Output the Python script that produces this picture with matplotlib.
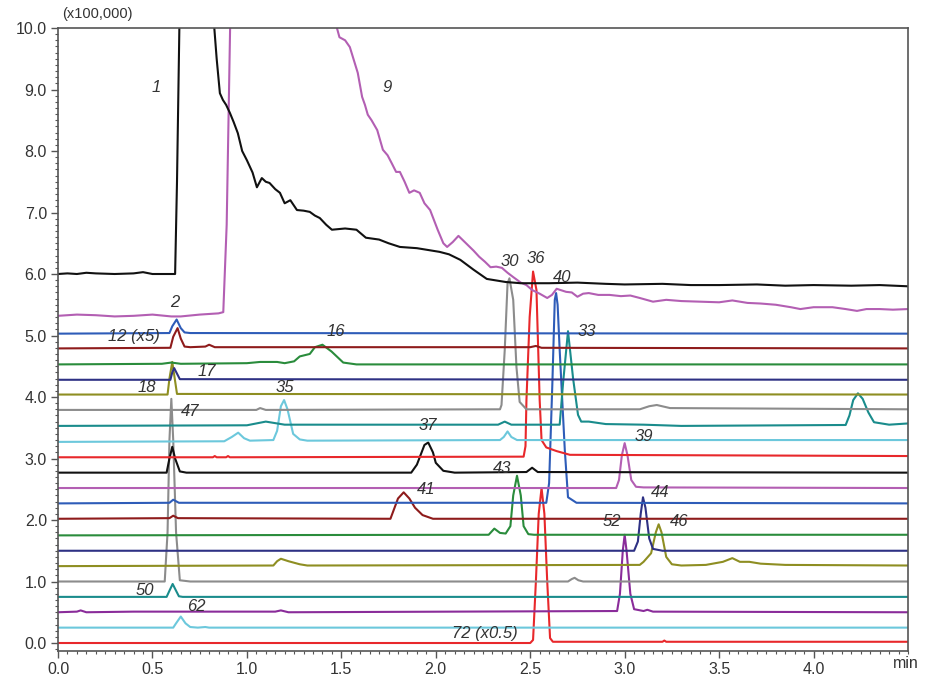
import matplotlib
matplotlib.use("Agg")
from matplotlib import pyplot as plt
from matplotlib.ticker import MultipleLocator, FixedLocator, FormatStrFormatter

# retention time (min), intensity (x100,000); one list of points per trace, bottom to top
tr72 = [(0, 0.0), (2.50, 0.0), (2.515, 0.05), (2.53, 1.0), (2.545, 2.1), (2.56, 2.52), (2.575, 2.1),
        (2.59, 1.0), (2.605, 0.08), (2.62, 0.02), (3.2, 0.02), (3.21, 0.04), (3.22, 0.02), (4.5, 0.02)]
tr62 = [(0, 0.25), (0.61, 0.25), (0.625, 0.32), (0.65, 0.43), (0.675, 0.32), (0.70, 0.26),
        (0.74, 0.25), (0.78, 0.26), (0.80, 0.25), (4.5, 0.25)]
tr52 = [(0, 0.5), (0.1, 0.51), (0.12, 0.53), (0.15, 0.5), (0.4, 0.51), (1.15, 0.51), (1.18, 0.53),
        (1.22, 0.5), (2.96, 0.52), (2.975, 0.8), (2.99, 1.5), (3.0, 1.76), (3.01, 1.5), (3.03, 0.8),
        (3.05, 0.55), (3.1, 0.52), (3.12, 0.54), (3.15, 0.51), (4.5, 0.5)]
tr50 = [(0, 0.75), (0.575, 0.75), (0.59, 0.85), (0.607, 0.96), (0.625, 0.85), (0.64, 0.76),
        (0.66, 0.75), (4.5, 0.75)]
tr47 = [(0, 1.0), (0.565, 1.0), (0.58, 1.8), (0.59, 3.3), (0.60, 3.97), (0.61, 3.3), (0.625, 1.8),
        (0.645, 1.02), (0.7, 1.0), (2.70, 1.0), (2.72, 1.04), (2.735, 1.06), (2.755, 1.02),
        (2.78, 1.0), (4.5, 1.0)]
tr46 = [(0, 1.25), (1.14, 1.26), (1.16, 1.33), (1.18, 1.37), (1.22, 1.33), (1.28, 1.28),
        (1.32, 1.26), (3.08, 1.27), (3.10, 1.32), (3.14, 1.46), (3.165, 1.8), (3.18, 1.93),
        (3.195, 1.8), (3.22, 1.40), (3.25, 1.28), (3.30, 1.26), (3.43, 1.27), (3.52, 1.32),
        (3.57, 1.38), (3.61, 1.32), (3.66, 1.32), (3.72, 1.29), (3.85, 1.27), (4.5, 1.26)]
tr44 = [(0, 1.5), (3.05, 1.5), (3.07, 1.65), (3.085, 2.1), (3.097, 2.37), (3.11, 2.2),
        (3.13, 1.7), (3.15, 1.53), (3.2, 1.5), (4.5, 1.5)]
tr43 = [(0, 1.75), (2.28, 1.76), (2.31, 1.86), (2.34, 1.79), (2.37, 1.78), (2.395, 1.9),
        (2.41, 2.4), (2.43, 2.72), (2.45, 2.4), (2.465, 1.9), (2.49, 1.77), (2.52, 1.76), (4.5, 1.76)]
tr41 = [(0, 2.02), (0.59, 2.03), (0.61, 2.07), (0.635, 2.03), (1.76, 2.02), (1.80, 2.35),
        (1.83, 2.45), (1.86, 2.35), (1.89, 2.2), (1.93, 2.08), (1.985, 2.02), (4.5, 2.02)]
tr40 = [(0, 2.27), (0.59, 2.28), (0.61, 2.33), (0.64, 2.28), (2.585, 2.28), (2.60, 2.6),
        (2.617, 4.2), (2.63, 5.58), (2.637, 5.69), (2.645, 5.5), (2.656, 4.76), (2.683, 3.14),
        (2.70, 2.37), (2.745, 2.28), (4.5, 2.27)]
tr39 = [(0, 2.52), (2.955, 2.52), (2.97, 2.65), (2.985, 3.05), (3.0, 3.25), (3.015, 3.05),
        (3.035, 2.65), (3.06, 2.54), (3.10, 2.53), (4.5, 2.52)]
tr37 = [(0, 2.77), (0.575, 2.77), (0.59, 3.0), (0.605, 3.19), (0.62, 3.0), (0.645, 2.79),
        (0.68, 2.77), (1.87, 2.77), (1.90, 2.9), (1.94, 3.22), (1.96, 3.26), (1.985, 3.1),
        (2.0, 2.93), (2.04, 2.8), (2.10, 2.77), (2.48, 2.78), (2.51, 2.85), (2.54, 2.78), (4.5, 2.77)]
tr36 = [(0, 3.02), (0.82, 3.02), (0.83, 3.04), (0.84, 3.02), (0.89, 3.02), (0.9, 3.04),
        (0.91, 3.02), (2.465, 3.03), (2.475, 3.2), (2.48, 3.95), (2.497, 5.3), (2.515, 6.04),
        (2.533, 5.74), (2.55, 3.95), (2.56, 3.3), (2.585, 3.18), (2.64, 3.12), (2.71, 3.06),
        (4.5, 3.04)]
tr35 = [(0, 3.27), (0.88, 3.28), (0.92, 3.35), (0.954, 3.42), (0.985, 3.33), (1.016, 3.29),
        (1.14, 3.30), (1.16, 3.45), (1.18, 3.85), (1.197, 3.95), (1.215, 3.8), (1.245, 3.4),
        (1.28, 3.31), (1.32, 3.29), (2.34, 3.30), (2.36, 3.35), (2.38, 3.44), (2.40, 3.35),
        (2.43, 3.30), (4.5, 3.30)]
tr33 = [(0, 3.53), (1.0, 3.54), (1.1, 3.6), (1.2, 3.55), (1.3, 3.55), (2.33, 3.55), (2.365, 3.6),
        (2.40, 3.55), (2.656, 3.55), (2.674, 4.23), (2.70, 5.07), (2.727, 4.3), (2.753, 3.71),
        (2.77, 3.6), (2.81, 3.6), (2.90, 3.56), (3.1, 3.55), (3.3, 3.53), (4.17, 3.545),
        (4.19, 3.7), (4.21, 3.95), (4.235, 4.06), (4.26, 3.97), (4.29, 3.75), (4.32, 3.59),
        (4.40, 3.55), (4.5, 3.57)]
tr30 = [(0, 3.79), (1.05, 3.79), (1.07, 3.82), (1.1, 3.79), (2.34, 3.80), (2.348, 3.87),
        (2.365, 4.76), (2.38, 5.85), (2.39, 5.93), (2.41, 5.58), (2.427, 4.49), (2.444, 3.92),
        (2.48, 3.80), (3.08, 3.80), (3.13, 3.85), (3.17, 3.87), (3.24, 3.82), (4.5, 3.80)]
tr18 = [(0, 4.04), (0.58, 4.04), (0.59, 4.3), (0.605, 4.57), (0.618, 4.3), (0.63, 4.05), (4.5, 4.04)]
tr17 = [(0, 4.28), (0.595, 4.28), (0.605, 4.4), (0.615, 4.47), (0.63, 4.38), (0.645, 4.29),
        (4.5, 4.28)]
tr16 = [(0, 4.53), (0.55, 4.54), (0.60, 4.56), (0.65, 4.54), (1.0, 4.55), (1.07, 4.57),
        (1.16, 4.57), (1.2, 4.55), (1.25, 4.58), (1.28, 4.66), (1.333, 4.7), (1.36, 4.81),
        (1.40, 4.85), (1.448, 4.74), (1.51, 4.56), (1.58, 4.53), (4.5, 4.53)]
tr12 = [(0, 4.79), (0.595, 4.80), (0.61, 4.98), (0.633, 5.12), (0.65, 4.95), (0.67, 4.82),
        (0.70, 4.81), (0.78, 4.82), (0.80, 4.85), (0.83, 4.81), (2.5, 4.81), (2.53, 4.83),
        (2.56, 4.80), (4.5, 4.79)]
tr2 = [(0, 5.03), (0.59, 5.04), (0.605, 5.15), (0.628, 5.26), (0.65, 5.12), (0.67, 5.05),
       (0.70, 5.04), (4.5, 5.03)]
tr9 = [(0, 5.32), (0.1, 5.34), (0.2, 5.33), (0.3, 5.31), (0.4, 5.32), (0.5, 5.34), (0.6, 5.31),
       (0.65, 5.31), (0.75, 5.34), (0.85, 5.36), (0.875, 5.38), (0.893, 6.8), (0.914, 10.5),
       (1.2, 11.0), (1.45, 10.3), (1.49, 9.85), (1.52, 9.8), (1.545, 9.69), (1.587, 9.27),
       (1.61, 8.88), (1.625, 8.75), (1.64, 8.59), (1.66, 8.5), (1.69, 8.34), (1.72, 8.02),
       (1.745, 7.93), (1.767, 7.8), (1.79, 7.66), (1.81, 7.66), (1.835, 7.5), (1.86, 7.32),
       (1.885, 7.36), (1.915, 7.32), (1.94, 7.15), (1.97, 7.04), (2.01, 6.72), (2.04, 6.5),
       (2.06, 6.44), (2.09, 6.52), (2.12, 6.62), (2.16, 6.5), (2.2, 6.38), (2.23, 6.28),
       (2.26, 6.2), (2.29, 6.11), (2.32, 6.12), (2.35, 6.1), (2.38, 6.02), (2.41, 5.95),
       (2.45, 5.86), (2.48, 5.82), (2.51, 5.74), (2.55, 5.68), (2.59, 5.61), (2.615, 5.66),
       (2.64, 5.76), (2.69, 5.71), (2.72, 5.7), (2.75, 5.63), (2.78, 5.68), (2.81, 5.69),
       (2.86, 5.66), (2.92, 5.66), (2.98, 5.64), (3.03, 5.65), (3.08, 5.61), (3.15, 5.55),
       (3.22, 5.58), (3.3, 5.56), (3.4, 5.55), (3.5, 5.54), (3.57, 5.57), (3.65, 5.53),
       (3.72, 5.52), (3.8, 5.5), (3.88, 5.46), (3.93, 5.43), (4.0, 5.46), (4.1, 5.46),
       (4.17, 5.43), (4.23, 5.4), (4.28, 5.43), (4.35, 5.43), (4.42, 5.42), (4.5, 5.43)]
tr1 = [(0, 6.0), (0.05, 6.01), (0.1, 6.0), (0.15, 6.02), (0.2, 6.01), (0.3, 6.0), (0.4, 6.01),
       (0.45, 6.03), (0.5, 6.0), (0.62, 6.0), (0.63, 7.5), (0.645, 10.5), (0.7, 11.0), (0.8, 11.0),
       (0.82, 10.3), (0.84, 9.5), (0.857, 8.94), (0.873, 8.83), (0.89, 8.75), (0.91, 8.62),
       (0.93, 8.47), (0.952, 8.29), (0.975, 8.0), (1.0, 7.85), (1.03, 7.65), (1.053, 7.41),
       (1.079, 7.56), (1.1, 7.5), (1.12, 7.48), (1.15, 7.38), (1.175, 7.32), (1.2, 7.15),
       (1.23, 7.2), (1.265, 7.04), (1.3, 7.03), (1.333, 7.01), (1.36, 6.95), (1.386, 6.91),
       (1.42, 6.8), (1.45, 6.72), (1.52, 6.74), (1.58, 6.72), (1.63, 6.59), (1.7, 6.56),
       (1.75, 6.5), (1.81, 6.44), (1.9, 6.42), (2.02, 6.36), (2.07, 6.32), (2.13, 6.23),
       (2.2, 6.07), (2.27, 5.92), (2.37, 5.87), (2.45, 5.85), (2.6, 5.85), (2.75, 5.86),
       (2.9, 5.84), (3.0, 5.83), (3.2, 5.84), (3.35, 5.82), (3.5, 5.82), (3.7, 5.83),
       (3.85, 5.81), (4.0, 5.82), (4.2, 5.81), (4.35, 5.82), (4.5, 5.80)]

RED, LBLUE, PURPLE, TEAL, GRAY = '#e8282b', '#6cc8dc', '#8a2c9a', '#1a8c8c', '#8c8c8c'
OLIVE, NAVY, GREEN, DRED, BLUE = '#8e8e22', '#2e3184', '#2a8c3c', '#8e1b1b', '#2e5cb8'
MAGENTA, BLACK = '#b35fb3', '#111111'

traces = [(tr72, RED), (tr62, LBLUE), (tr52, PURPLE), (tr50, TEAL), (tr47, GRAY), (tr46, OLIVE),
          (tr44, NAVY), (tr43, GREEN), (tr41, DRED), (tr40, BLUE), (tr39, MAGENTA), (tr37, BLACK),
          (tr36, RED), (tr35, LBLUE), (tr33, TEAL), (tr30, GRAY), (tr18, OLIVE), (tr17, NAVY),
          (tr16, GREEN), (tr12, DRED), (tr2, BLUE), (tr9, MAGENTA), (tr1, BLACK)]

peak_labels = [("1", 0.52, 9.04), ("9", 1.74, 9.04), ("2", 0.62, 5.53), ("12 (x5)", 0.40, 4.98),
               ("16", 1.47, 5.07), ("17", 0.79, 4.41), ("18", 0.47, 4.16), ("47", 0.70, 3.77),
               ("35", 1.20, 4.16), ("30", 2.39, 6.20), ("36", 2.53, 6.26), ("40", 2.67, 5.95),
               ("33", 2.80, 5.07), ("37", 1.96, 3.54), ("39", 3.10, 3.35), ("43", 2.35, 2.83),
               ("41", 1.95, 2.50), ("44", 3.19, 2.44), ("52", 2.93, 1.97), ("46", 3.29, 1.98),
               ("50", 0.46, 0.86), ("62", 0.73, 0.59), ("72 (x0.5)", 2.26, 0.16)]

x_ticks = [0.0, 0.5, 1.0, 1.5, 2.0, 2.5, 3.0, 3.5, 4.0]

plt.rcParams['font.family'] = ['Liberation Sans', 'DejaVu Sans']

fig = plt.figure(figsize=(9.27, 6.78), dpi=100)
ax = fig.add_axes([58 / 927, 1 - 651 / 678, 850 / 927, 623 / 678])

for pts, color in traces:
    t, y = zip(*pts)
    ax.plot(t, y, color=color, lw=1.5, solid_joinstyle='round')

for txt, x, y in peak_labels:
    ax.text(x, y, txt, style='italic', fontsize=12, color='#333333', ha='center', va='center')

ax.set_xlim(0, 4.5)
ax.set_ylim(-0.13, 10.0)
ax.xaxis.set_major_locator(FixedLocator(x_ticks))
ax.xaxis.set_minor_locator(MultipleLocator(0.05))
ax.yaxis.set_major_locator(MultipleLocator(1.0))
ax.yaxis.set_minor_locator(MultipleLocator(0.1))
ax.xaxis.set_major_formatter(FormatStrFormatter('%.1f'))
ax.yaxis.set_major_formatter(FormatStrFormatter('%.1f'))
ax.tick_params(which='major', direction='out', length=5, width=1, color='#555555',
               labelsize=11.5, labelcolor='#333333', pad=3)
ax.tick_params(which='minor', direction='out', length=2.5, width=0.8, color='#555555')
for side in ['left', 'bottom', 'top', 'right']:
    ax.spines[side].set_color('#555555')
    ax.spines[side].set_linewidth(1.2)

fig.text(62 / 927, 1 - 14 / 678, "(x100,000)", fontsize=10.5, color='#333333', va='center')
fig.text(893 / 927, 1 - 664 / 678, "min", fontsize=11.5, color='#333333', va='center')

fig.savefig('out.png', dpi=100)
